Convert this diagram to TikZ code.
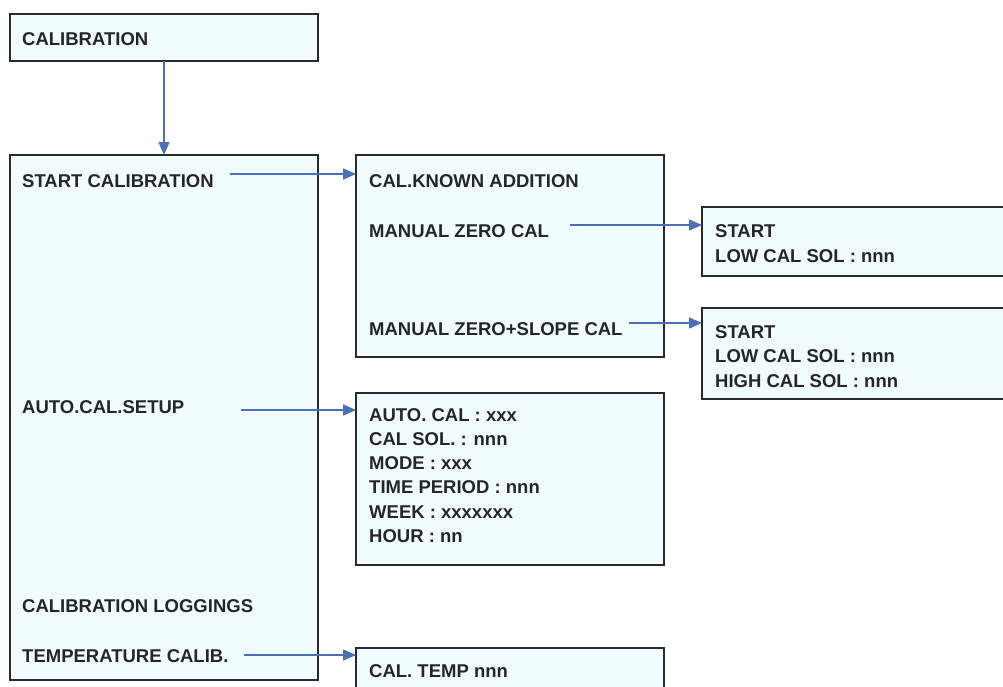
\documentclass[tikz,border=0pt]{standalone}
\usepackage{fontspec}
\setmainfont{Liberation Sans}
\usetikzlibrary{arrows.meta}
\definecolor{boxfill}{HTML}{F0FCFF}
\definecolor{boxline}{HTML}{2A2A2A}
\definecolor{arrowblue}{HTML}{4A70B5}
\tikzset{
  menubox/.style={draw=boxline, line width=2.8pt, fill=boxfill, inner sep=0pt},
  item/.style={anchor=base west, inner sep=0pt, font=\fontsize{18.5}{24}\selectfont\bfseries, text=black!85},
  arr/.style={draw=arrowblue, line width=1.5pt, -{Triangle[length=13pt,width=11pt]}},
}
\begin{document}
\begin{tikzpicture}[x=1pt,y=-1pt]
\useasboundingbox (0,0) rectangle (1003,686);
\fill[white] (0,0) rectangle (1003,686);

% boxes
\draw[menubox] (10,14) rectangle (318,61);
\coordinate (Abot) at (164,61);
\draw[menubox] (10,155) rectangle (318,680);
\coordinate (Mtop) at (164,155);
\draw[menubox] (356,155) rectangle (664,357);
\coordinate (Bw) at (356,155);
\draw[menubox] (702,207) rectangle (1015,276);
\coordinate (Cw) at (702,207);
\draw[menubox] (702,308) rectangle (1015,399);
\coordinate (Dw) at (702,308);
\draw[menubox] (356,393) rectangle (664,565);
\coordinate (Ew) at (356,393);
\draw[menubox] (356,648) rectangle (664,700);
\coordinate (Fw) at (356,648);

% texts
\node[item] (tA) at (22,45) {CALIBRATION};
\node[item] (m1) at (22,187) {START CALIBRATION};
\node[item] (m2) at (22,413) {AUTO.CAL.SETUP};
\node[item] (m3) at (22,612) {CALIBRATION LOGGINGS};
\node[item] (m4) at (22,662) {TEMPERATURE CALIB.};

\node[item] (b1) at (369,187) {CAL.KNOWN ADDITION};
\node[item] (b2) at (369,237) {MANUAL ZERO CAL};
\node[item] (b3) at (369,335) {MANUAL ZERO+SLOPE CAL};

\node[item] (c1) at (715,237) {START};
\node[item] (c2) at (715,262) {LOW CAL SOL : nnn};

\node[item] (d1) at (715,338) {START};
\node[item] (d2) at (715,362) {LOW CAL SOL : nnn};
\node[item] (d3) at (715,387) {HIGH CAL SOL : nnn};

\node[item] (e1) at (369,421) {AUTO. CAL : xxx};
\node[item] (e2) at (369,445) {CAL SOL. : nnn};
\node[item] (e3) at (369,469) {MODE : xxx};
\node[item] (e4) at (369,493) {TIME PERIOD : nnn};
\node[item] (e5) at (369,518) {WEEK : xxxxxxx};
\node[item] (e6) at (369,542) {HOUR : nn};

\node[item] (f1) at (369,677) {CAL. TEMP nnn};

% connectors
\coordinate (s1) at (230,174);
\coordinate (s2) at (241,410);
\coordinate (s3) at (244,655);
\coordinate (s4) at (570,225);
\coordinate (s5) at (629,323);

\draw[arr] (Abot) -- (Mtop);
\draw[arr] (s1) -- (s1 -| Bw);
\draw[arr] (s2) -- (s2 -| Ew);
\draw[arr] (s3) -- (s3 -| Fw);
\draw[arr] (s4) -- (s4 -| Cw);
\draw[arr] (s5) -- (s5 -| Dw);
\end{tikzpicture}
\end{document}
